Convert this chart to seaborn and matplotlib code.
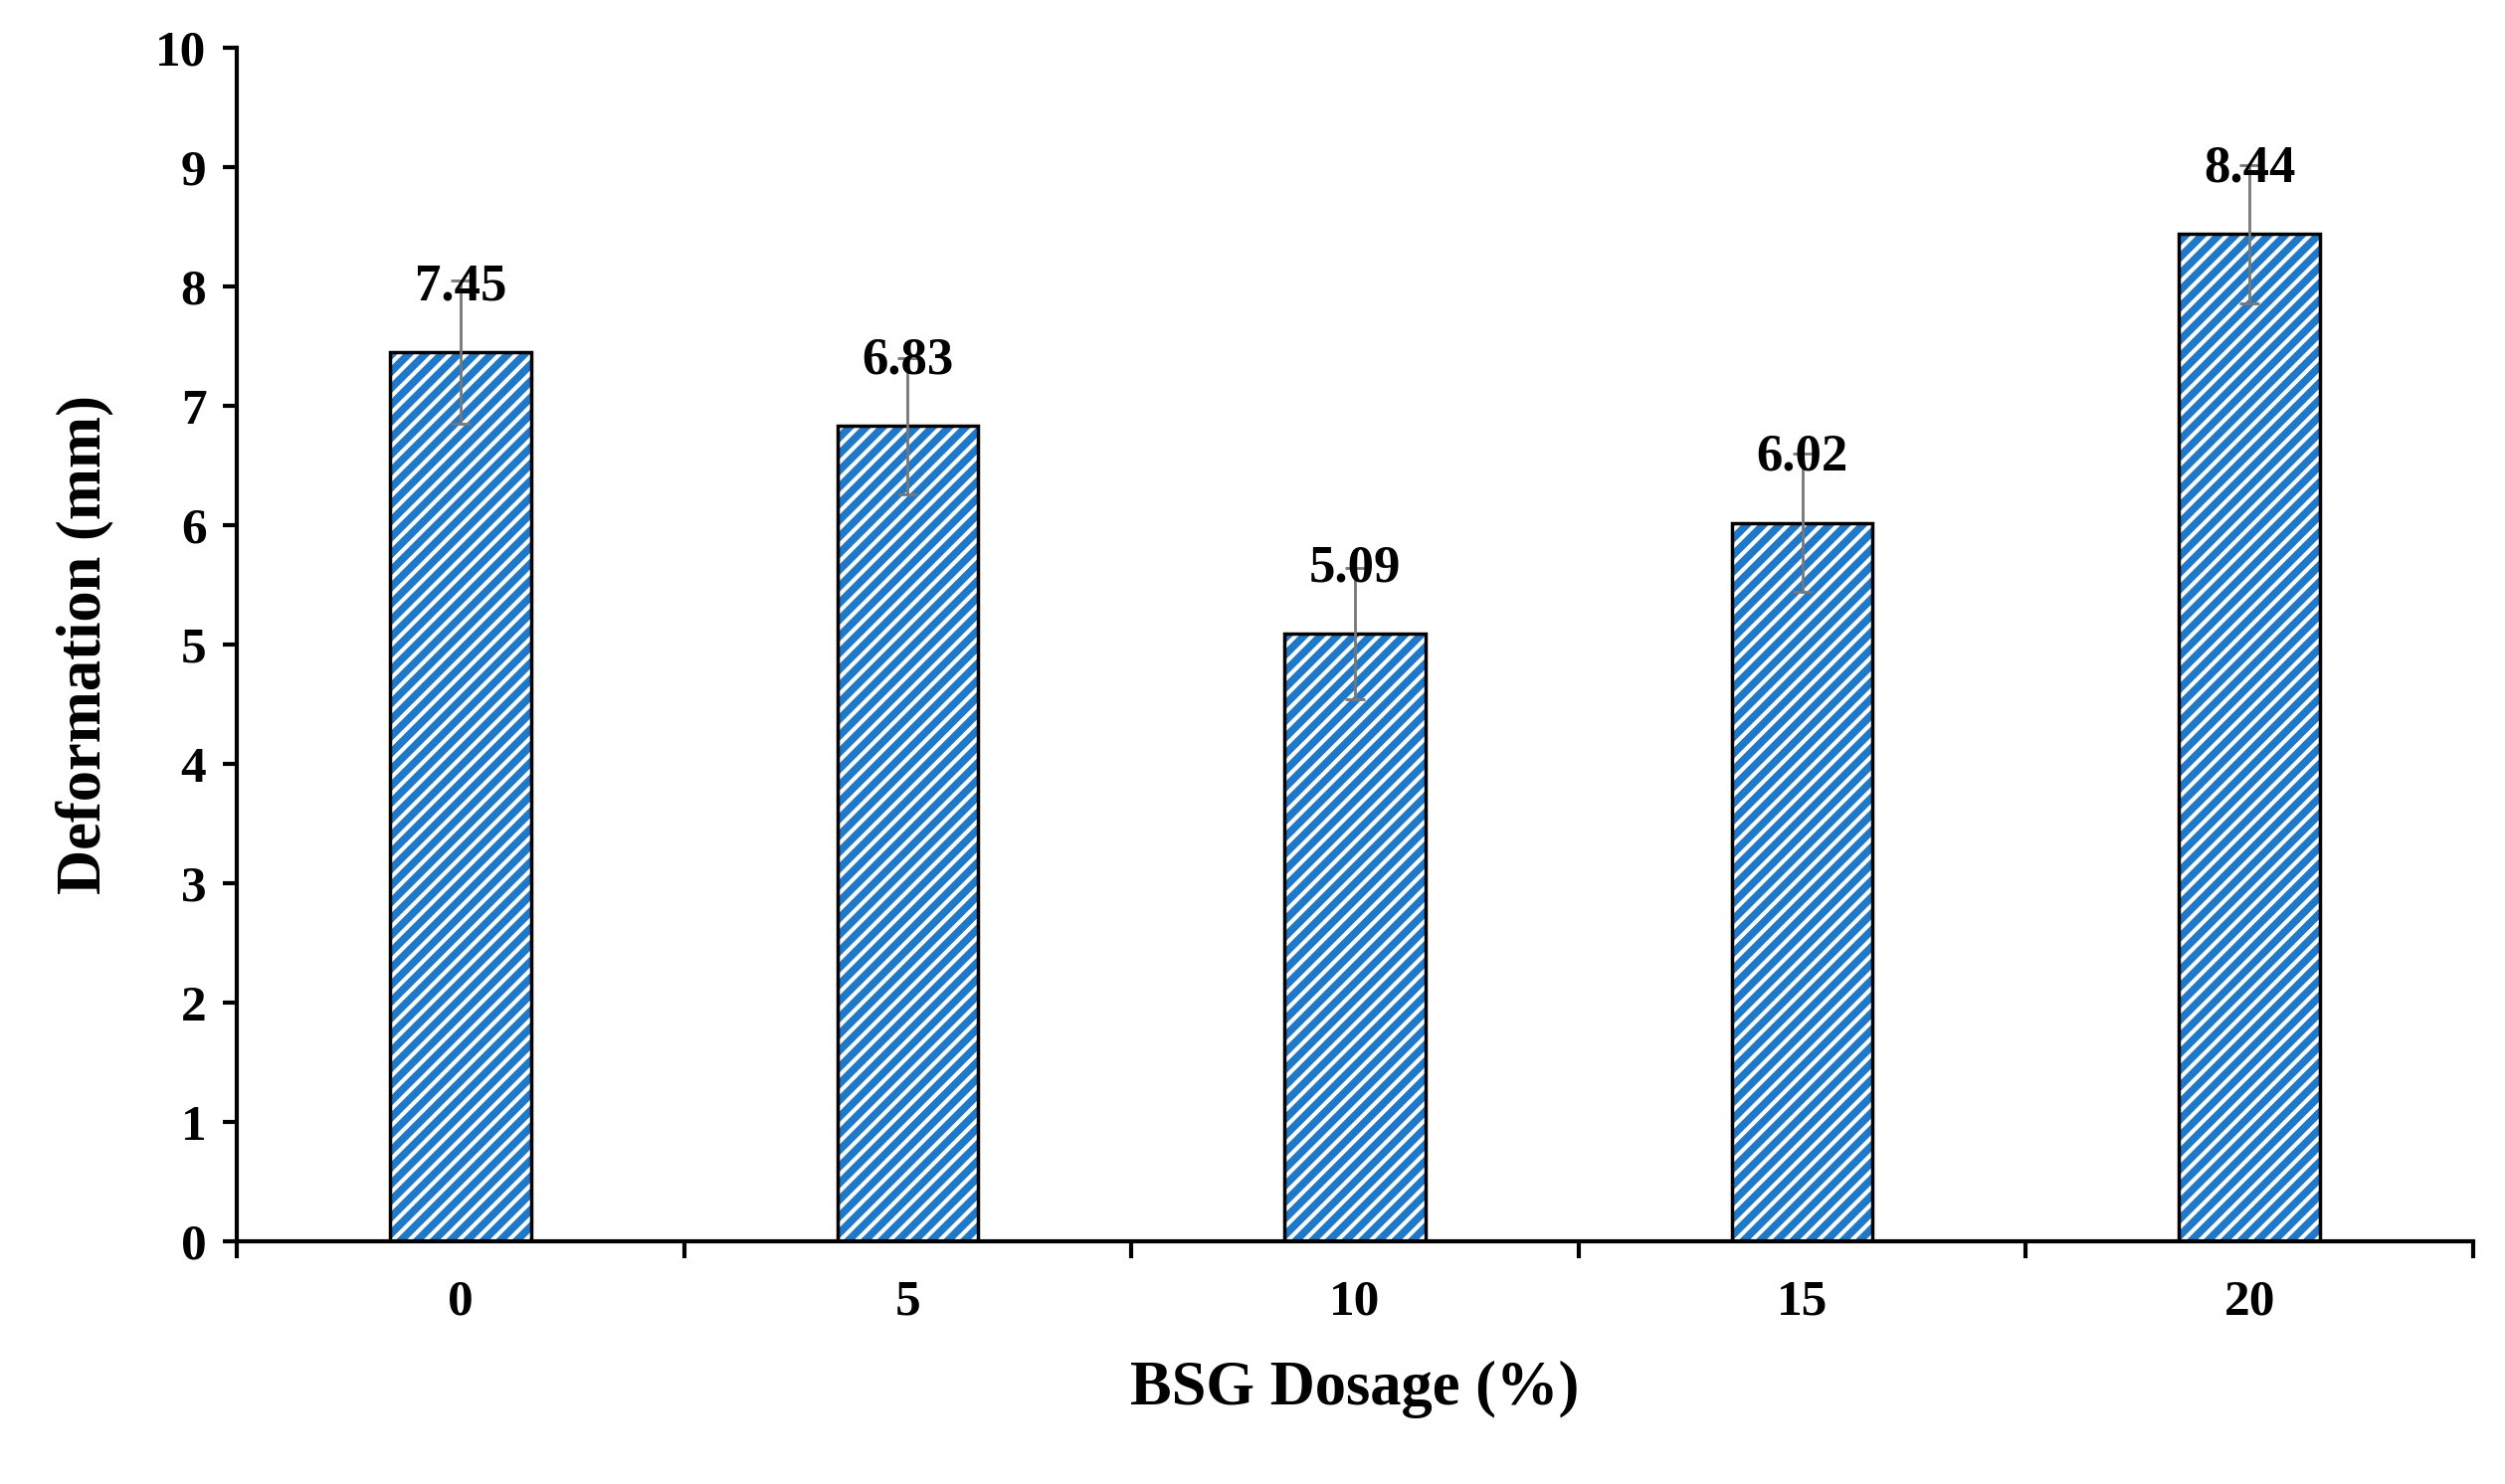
import matplotlib
matplotlib.use("Agg")
import matplotlib.pyplot as plt
import seaborn as sns
import pandas as pd

dosage = ["0", "5", "10", "15", "20"]
deformation = [7.45, 6.83, 5.09, 6.02, 8.44]
errors = [0.60, 0.57, 0.55, 0.58, 0.58]

sns.set_style("ticks")
plt.rcParams['font.family'] = ['Liberation Serif', 'DejaVu Serif']
plt.rcParams['font.weight'] = 'bold'
plt.rcParams['hatch.linewidth'] = 5.5
plt.rcParams['text.color'] = 'black'
plt.rcParams['axes.labelcolor'] = 'black'
plt.rcParams['xtick.color'] = 'black'
plt.rcParams['ytick.color'] = 'black'

fig = plt.figure(figsize=(25.18, 14.92), dpi=100)
ax = fig.add_axes([238/2518, 1-1248/1492, (2486-238)/2518, (1248-48)/1492])
df = pd.DataFrame({"d": dosage, "v": deformation})
sns.barplot(data=df, x="d", y="v", ax=ax, width=0.315, color="white", errorbar=None)
for p in ax.patches:
    p.set_hatch('//')
    p.set_edgecolor('black')
    p.set_linewidth(2.5)
    p.set_facecolor('white')
    p._hatch_color = matplotlib.colors.to_rgba('#1f78c8')
ax.errorbar(range(len(dosage)), deformation, yerr=errors, fmt='none',
            ecolor='#777777', elinewidth=2, capsize=7, capthick=2)
for i, v in enumerate(deformation):
    ax.text(i, v + 0.55, f"{v:.2f}", ha='center', va='center', fontsize=38, fontweight='bold')
ax.set_ylim(0, 10)
ax.set_xlim(-0.5, 4.5)
ax.set_yticks(range(0, 11))
ax.set_xticks(range(5))
ax.set_xticks([-0.5, 0.5, 1.5, 2.5, 3.5, 4.5], minor=True)
ax.tick_params(axis='x', which='major', length=0, labelsize=37, pad=28)
ax.tick_params(axis='x', which='minor', length=12, width=3, direction='out')
ax.tick_params(axis='y', labelsize=37, length=10, width=3, direction='out', pad=12)
for lab in ax.get_xticklabels() + ax.get_yticklabels():
    lab.set_fontweight('bold')
ax.set_xlabel("BSG Dosage (%)", fontsize=45, fontweight='bold', labelpad=25)
ax.set_ylabel("Deformation (mm)", fontsize=45, fontweight='bold', labelpad=30)
sns.despine(ax=ax)
ax.spines['left'].set_linewidth(3)
ax.spines['bottom'].set_linewidth(3)
ax.spines['left'].set_color('black')
ax.spines['bottom'].set_color('black')
fig.savefig("out.png", dpi=100)
